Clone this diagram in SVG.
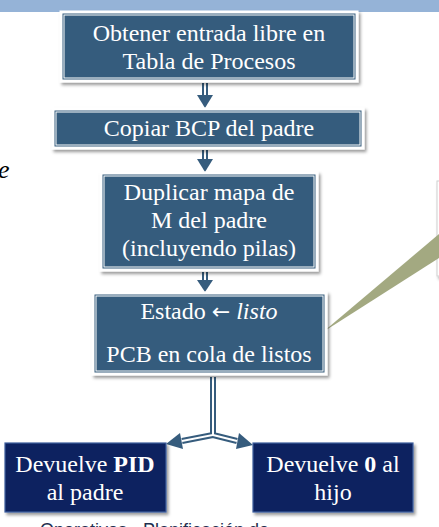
<svg xmlns="http://www.w3.org/2000/svg" width="439" height="527" viewBox="0 0 439 527">
<style>
.box{fill:#365C7D;stroke:#FFFFFF;stroke-width:3;filter:url(#sh)}
.inner{fill:none;stroke:#FFFFFF;stroke-width:1}
.nbox{fill:#0F2360;stroke:#3E5E9E;stroke-width:1.2;filter:url(#sh)}
.t{font-family:"Liberation Serif","Times New Roman",serif;font-size:24px;fill:#FFFFFF;text-anchor:middle}
.sh1{stroke:#365C7D;stroke-width:6;fill:none}
.sh2{stroke:#FFFFFF;stroke-width:2;fill:none}
.hd{fill:#365C7D}
</style>
<defs>
<filter id="sh" x="-10%" y="-10%" width="125%" height="130%">
<feDropShadow dx="2" dy="2.5" stdDeviation="1.5" flood-color="#000" flood-opacity="0.4"/>
</filter>
</defs>
<rect x="0" y="0" width="439" height="12" fill="#95B3D7"/>
<text x="-2" y="178" font-family="Liberation Serif, serif" font-style="italic" font-size="26" fill="#000">e</text>
<g id="callout">
<rect x="437" y="181" width="20" height="95" fill="#FFFFFF" stroke="#D0D0D0" stroke-width="1" filter="url(#sh)"/>
<polygon points="323,332 439,234 439,258" fill="#A3A981"/>
</g>
<g id="connectors">
<line class="sh1" x1="205" y1="83" x2="205" y2="95"/><line class="sh2" x1="205" y1="83" x2="205" y2="95"/>
<polygon class="hd" points="197,95 213,95 205,108"/>
<line class="sh1" x1="205" y1="150" x2="205" y2="159"/><line class="sh2" x1="205" y1="150" x2="205" y2="159"/>
<polygon class="hd" points="197,159 213,159 205,172"/>
<line class="sh1" x1="205" y1="272" x2="205" y2="280"/><line class="sh2" x1="205" y1="272" x2="205" y2="280"/>
<polygon class="hd" points="197,280 213,280 205,292"/>
<path class="sh1" d="M213,377 V435 L182,441 M213,435 L237,441"/>
<path class="sh2" d="M213,377 V435 L182,441 M213,435 L237,441"/>
<polygon class="hd" points="166,444 183,449 180,433"/>
<polygon class="hd" points="253,445 236,449 239,433"/>
</g>
<g id="n1">
<rect class="box" x="61" y="12" width="296" height="69"/>
<rect class="inner" x="64" y="15" width="290" height="63"/>
<text class="t" x="209" y="41">Obtener entrada libre en</text>
<text class="t" x="209" y="69">Tabla de Procesos</text>
</g>
<g id="n2">
<rect class="box" x="53" y="109" width="310" height="39"/>
<rect class="inner" x="56" y="112" width="304" height="33"/>
<text class="t" x="209" y="136">Copiar BCP del padre</text>
</g>
<g id="n3">
<rect class="box" x="101" y="173" width="216" height="97"/>
<rect class="inner" x="104" y="176" width="210" height="91"/>
<text class="t" x="209" y="200">Duplicar mapa de</text>
<text class="t" x="209" y="228">M del padre</text>
<text class="t" x="209" y="256">(incluyendo pilas)</text>
</g>
<g id="n4">
<rect class="box" x="93" y="293" width="233" height="81"/>
<rect class="inner" x="96" y="296" width="227" height="75"/>
<text class="t" x="209" y="319">Estado <tspan font-family="DejaVu Sans, sans-serif" font-size="22">←</tspan> <tspan font-style="italic">listo</tspan></text>
<text class="t" x="209" y="362">PCB en cola de listos</text>
</g>
<g id="n5">
<rect class="nbox" x="5" y="443" width="161" height="69"/>
<text class="t" x="85" y="472">Devuelve <tspan font-weight="bold">PID</tspan></text>
<text class="t" x="85" y="500">al padre</text>
</g>
<g id="n6">
<rect class="nbox" x="253" y="443" width="160" height="69"/>
<text class="t" x="333" y="472">Devuelve <tspan font-weight="bold">0</tspan> al</text>
<text class="t" x="333" y="500">hijo</text>
</g>
<text x="40" y="536" font-family="Liberation Sans, Arial, sans-serif" font-size="18" fill="#1F2F4F">Operativos - Planificación de</text>
</svg>
